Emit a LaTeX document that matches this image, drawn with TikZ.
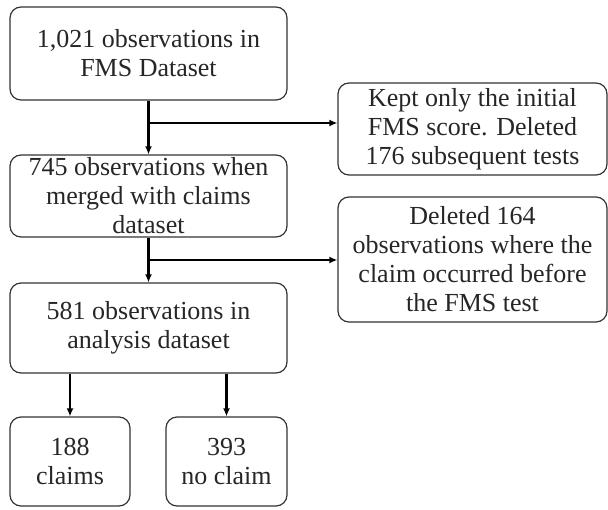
\documentclass[tikz,border=0pt]{standalone}
\usepackage{fontspec}
\setmainfont{Liberation Serif}
\usetikzlibrary{arrows.meta}
\begin{document}
\begin{tikzpicture}[x=1pt,y=-1pt,
  box/.style={draw=black!80, line width=1.2pt, rounded corners=11pt, align=center,
    font=\fontsize{26}{29}\selectfont, inner sep=0pt, text=black!85},
  arr/.style={line width=2.2pt, -{Latex[length=8pt,width=7pt]}}]
\useasboundingbox (0,0) rectangle (608,509);
\node[box, minimum width=277pt, minimum height=93pt] (b1) at (148.5,53.5) {1,021 observations in\\FMS Dataset};
\node[box, minimum width=277pt, minimum height=82pt] (b2) at (148.5,196) {745 observations when\\merged with claims\\dataset};
\node[box, minimum width=277pt, minimum height=90pt] (b3) at (148.5,328) {581 observations in\\analysis dataset};
\node[box, minimum width=120pt, minimum height=89pt] (b4) at (70,461.5) {188\\claims};
\node[box, minimum width=121pt, minimum height=89pt] (b5) at (226.5,461.5) {393\\no claim};
\node[box, minimum width=269pt, minimum height=92pt] (r1) at (472.5,129) {Kept only the initial\\FMS score. Deleted\\176 subsequent tests};
\node[box, minimum width=269pt, minimum height=125pt] (r2) at (472.5,259.5) {Deleted 164\\observations where the\\claim occurred before\\the FMS test};
\coordinate (j1) at (148.5,123);
\coordinate (j2) at (148.5,260);
\draw[arr] (b1) -- (b2);
\draw[arr] (b2) -- (b3);
\draw[arr] (j1) -- (j1 -| r1.west);
\draw[arr] (j2) -- (j2 -| r2.west);
\draw[arr] (b3.south -| b4) -- (b4);
\draw[arr] (b3.south -| b5) -- (b5);
\end{tikzpicture}
\end{document}
